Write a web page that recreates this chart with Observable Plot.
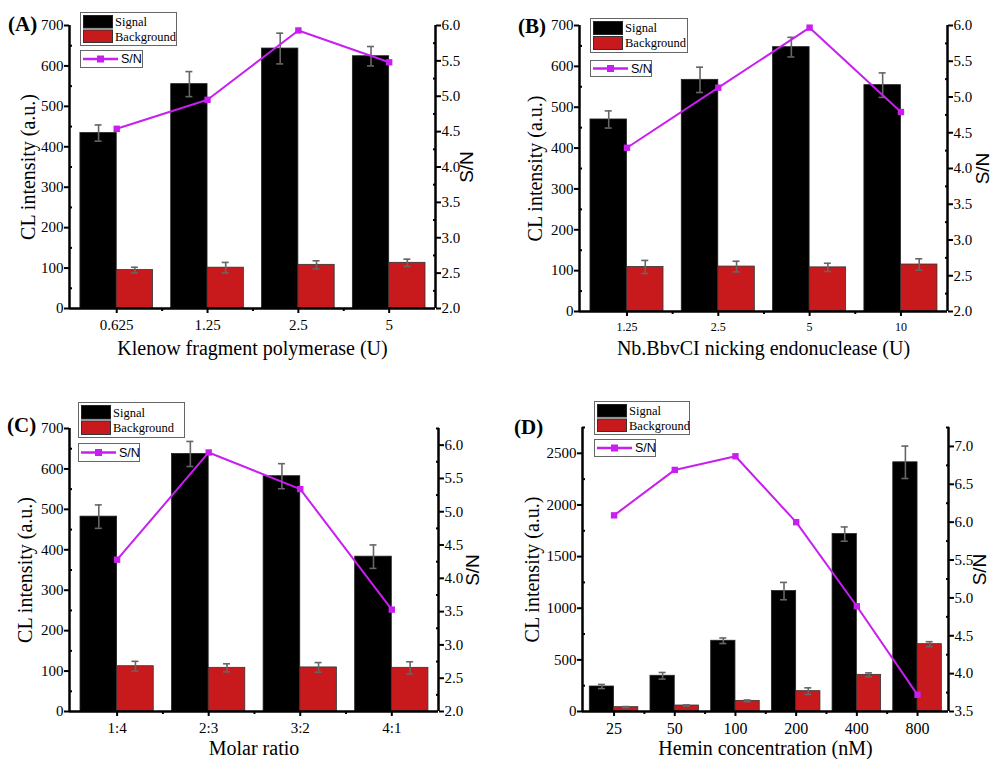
<!DOCTYPE html>
<html><head><meta charset="utf-8">
<script src="https://cdn.jsdelivr.net/npm/d3@7"></script>
<script src="https://cdn.jsdelivr.net/npm/@observablehq/plot@0.6"></script>
<style>
body{margin:0;background:#fff;}
#root{position:relative;width:991px;height:759px;overflow:hidden;background:#fff;}
.panel{position:absolute;}
.panel svg{overflow:visible;}
.tag{position:absolute;font:bold 21px "Liberation Serif";line-height:1;color:#000;}
.legend{position:absolute;}
</style></head><body><div id="root"></div>
<script>
// ---------- DATA ----------
const catsA = ["0.625", "1.25", "2.5", "5"];
const signalA = [434, 555, 643, 624];
const signalErrA = [20, 31, 38, 24];
const backA = [95, 101, 108, 113];
const backErrA = [7, 13, 10, 9];
const snA = [4.54, 4.95, 5.93, 5.48];

const catsB = ["1.25", "2.5", "5", "10"];
const signalB = [470, 567, 647, 554];
const signalErrB = [21, 31, 24, 30];
const backB = [109, 110, 108, 115];
const backErrB = [16, 13, 10, 14];
const snB = [4.29, 5.13, 5.97, 4.79];

const catsC = ["1:4", "2:3", "3:2", "4:1"];
const signalC = [482, 637, 582, 383];
const signalErrC = [29, 31, 31, 29];
const backC = [112, 108, 109, 108];
const backErrC = [12, 10, 12, 15];
const snC = [4.28, 5.89, 5.34, 3.53];

const catsD = ["25", "50", "100", "200", "400", "800"];
const signalD = [242, 346, 685, 1166, 1718, 2413];
const signalErrD = [20, 32, 27, 84, 69, 157];
const backD = [42, 58, 103, 197, 355, 652];
const backErrD = [6, 6, 8, 32, 19, 24];
const snD = [6.09, 6.69, 6.87, 6.0, 4.89, 3.72];

const seriesNames = ["Signal", "Background"];
const lineName = "S/N";
const yTitle = "CL intensity (a.u.)";

// ---------- STYLE / LAYOUT ----------
const MAG = "#c81ef0";
const RED = "#c81a1c";
const ERR = "#666";
const SERIF = "Liberation Serif, Times New Roman, serif";
const SANS = "Liberation Sans, Arial, sans-serif";

const panels = [
  {tag:"(A)", cats:catsA, signal:signalA, signalErr:signalErrA, back:backA, backErr:backErrA, sn:snA,
   xTitle:"Klenow fragment polymerase (U)", yDomain:[0,700], yStep:100, rDomain:[2,6],
   left:0, top:0, w:495, h:380, mL:69, mR:60, mT:25, mB:72, yLab:49, rLab:37, xLab:46, xFs:15,
   tagX:8, tagY:14, lg:{x:80, y:12, w1:96, h1:33, y2:50, w2:62, h2:17}},
  {tag:"(B)", cats:catsB, signal:signalB, signalErr:signalErrB, back:backB, backErr:backErrB, sn:snB,
   xTitle:"Nb.BbvCI nicking endonuclease (U)", yDomain:[0,700], yStep:100, rDomain:[2,6],
   left:495, top:0, w:496, h:380, mL:84, mR:44, mT:25, mB:69, yLab:52, rLab:41, xLab:43, xFs:12,
   tagX:518, tagY:16, lg:{x:590, y:18, w1:97, h1:34, y2:60, w2:61, h2:16}},
  {tag:"(C)", cats:catsC, signal:signalC, signalErr:signalErrC, back:backC, backErr:backErrC, sn:snC,
   xTitle:"Molar ratio", yDomain:[0,700], yStep:100, rDomain:[2,6.25],
   left:0, top:380, w:495, h:379, mL:69, mR:57, mT:48, mB:48, yLab:52, rLab:40, xLab:43, xFs:15,
   tagX:7, tagY:415, lg:{x:78, y:402, w1:106, h1:35, y2:443, w2:61, h2:18}},
  {tag:"(D)", cats:catsD, signal:signalD, signalErr:signalErrD, back:backD, backErr:backErrD, sn:snD,
   xTitle:"Hemin concentration (nM)", yDomain:[0,2750], yStep:500, rDomain:[3.5,7.25],
   left:495, top:380, w:496, h:379, mL:87, mR:43, mT:47, mB:48, yLab:58, rLab:37, xLab:43, xFs:16,
   tagX:514, tagY:417, lg:{x:594, y:401, w1:95, h1:33, y2:439, w2:61, h2:17}}
];

const root = document.getElementById("root");

function makePanel(p) {
  const n = p.cats.length;
  const rows = p.cats.map((c, i) => ({i, c, sig:p.signal[i], sigErr:p.signalErr[i], bg:p.back[i], bgErr:p.backErr[i], sn:p.sn[i]}));
  const xDom = [-0.52, n - 0.49];
  const W = 0.4;
  const pxPerUnit = (p.w - p.mL - p.mR) / (xDom[1] - xDom[0]);
  const cap = 3.5 / pxPerUnit;
  const toLeft = d3.scaleLinear().domain(p.rDomain).range(p.yDomain);
  const eps = 1e-9;
  const majL = d3.range(p.yDomain[0], p.yDomain[1] + eps, p.yStep);
  const minL = d3.range(p.yDomain[0] + p.yStep / 2, p.yDomain[1] + eps, p.yStep);
  const majR = d3.range(p.rDomain[0], p.rDomain[1] + eps, 0.5);
  const minR = d3.range(p.rDomain[0] + 0.25, p.rDomain[1] + eps, 0.5);
  const idx = d3.range(n);
  const bounds = d3.range(n - 1).map(i => i + 0.5);
  const errStyle = {stroke: ERR, strokeWidth: 1.6};

  const chart = Plot.plot({
    width: p.w, height: p.h,
    marginLeft: p.mL, marginRight: p.mR, marginTop: p.mT, marginBottom: p.mB,
    style: {fontFamily: SERIF, fontSize: "15px", color: "#000", background: "transparent", overflow: "visible"},
    x: {domain: xDom, axis: null},
    y: {domain: p.yDomain, axis: null},
    marks: [
      Plot.rect(rows, {x1: d => d.i - W, x2: d => d.i, y1: 0, y2: "sig", fill: "#000", stroke: "#222", strokeWidth: 0.8}),
      Plot.rect(rows, {x1: d => d.i, x2: d => d.i + W, y1: 0, y2: "bg", fill: RED, stroke: "#333", strokeWidth: 0.8}),
      Plot.ruleX(rows, {x: d => d.i - W / 2, y1: d => d.sig - d.sigErr, y2: d => d.sig + d.sigErr, ...errStyle}),
      Plot.ruleY(rows, {y: d => d.sig + d.sigErr, x1: d => d.i - W / 2 - cap, x2: d => d.i - W / 2 + cap, ...errStyle}),
      Plot.ruleY(rows, {y: d => d.sig - d.sigErr, x1: d => d.i - W / 2 - cap, x2: d => d.i - W / 2 + cap, ...errStyle}),
      Plot.ruleX(rows, {x: d => d.i + W / 2, y1: d => d.bg - d.bgErr, y2: d => d.bg + d.bgErr, ...errStyle}),
      Plot.ruleY(rows, {y: d => d.bg + d.bgErr, x1: d => d.i + W / 2 - cap, x2: d => d.i + W / 2 + cap, ...errStyle}),
      Plot.ruleY(rows, {y: d => d.bg - d.bgErr, x1: d => d.i + W / 2 - cap, x2: d => d.i + W / 2 + cap, ...errStyle}),
      Plot.line(rows, {x: "i", y: d => toLeft(d.sn), stroke: MAG, strokeWidth: 2}),
      Plot.dot(rows, {x: "i", y: d => toLeft(d.sn), symbol: "square", fill: MAG, r: 3.6}),
      // axis lines
      Plot.ruleX([xDom[0]], {stroke: "#000", strokeWidth: 2.5}),
      Plot.ruleX([xDom[1]], {stroke: "#000", strokeWidth: 2.5}),
      Plot.ruleY([p.yDomain[0]], {stroke: "#000", strokeWidth: 2.5}),
      // left axis
      Plot.axisY({anchor: "left", ticks: majL, tickFormat: v => String(v), tickSize: 5, tickPadding: 1, strokeWidth: 2, label: null, fontSize: 15}),
      Plot.axisY({anchor: "left", ticks: minL, tickSize: -3, strokeWidth: 2, tickFormat: () => "", label: null}),
      Plot.axisY({anchor: "left", ticks: [], label: yTitle, labelAnchor: "center", labelArrow: "none", labelOffset: p.yLab, fontSize: 20}),
      // right axis (S/N)
      Plot.axisY({anchor: "right", ticks: majR.map(v => toLeft(v)), tickFormat: v => toLeft.invert(v).toFixed(1), tickSize: 5, tickPadding: 1, strokeWidth: 2, label: null, fontSize: 15}),
      Plot.axisY({anchor: "right", ticks: minR.map(v => toLeft(v)), tickSize: -3, strokeWidth: 2, tickFormat: () => "", label: null}),
      Plot.axisY({anchor: "right", ticks: [], label: lineName, labelAnchor: "center", labelArrow: "none", labelOffset: p.rLab, fontSize: 19, fontFamily: SANS}),
      // x axis
      Plot.axisX({ticks: idx, tickFormat: i => p.cats[i], tickSize: 5, tickPadding: 6, strokeWidth: 2, label: null, fontSize: p.xFs}),
      Plot.axisX({ticks: bounds, tickSize: 3, strokeWidth: 2, tickFormat: () => "", label: null}),
      Plot.axisX({ticks: [], label: p.xTitle, labelAnchor: "center", labelArrow: "none", labelOffset: p.xLab, fontSize: 20})
    ]
  });
  const div = document.createElement("div");
  div.className = "panel";
  div.style.left = p.left + "px";
  div.style.top = p.top + "px";
  div.appendChild(chart);
  root.appendChild(div);

  // panel tag
  const t = document.createElement("div");
  t.className = "tag";
  t.style.left = p.tagX + "px";
  t.style.top = p.tagY + "px";
  t.textContent = p.tag;
  root.appendChild(t);

  // legend
  const L = p.lg;
  const ns = "http://www.w3.org/2000/svg";
  const svg = document.createElementNS(ns, "svg");
  const sw = Math.max(L.w1, L.w2) + 2, sh = (L.y2 - L.y) + L.h2 + 2;
  svg.setAttribute("width", sw); svg.setAttribute("height", sh);
  svg.style.position = "absolute"; svg.style.left = L.x + "px"; svg.style.top = L.y + "px";
  const o = L.y2 - L.y;
  const mid2 = o + L.h2 / 2 + 0.5;
  const rh = (L.h1 - 8) / 2;
  svg.innerHTML = `
    <rect x="0.5" y="0.5" width="${L.w1}" height="${L.h1}" fill="#fff" stroke="#666" stroke-width="1"/>
    <rect x="3.5" y="3.5" width="29" height="${rh}" fill="#000" stroke="#222"/>
    <rect x="3.5" y="${5.5 + rh}" width="29" height="${rh}" fill="${RED}" stroke="#333"/>
    <text x="35" y="${3.5 + rh / 2}" dy="0.35em" font-family="${SERIF}" font-size="12.5">${seriesNames[0]}</text>
    <text x="35" y="${5.5 + rh * 1.5}" dy="0.35em" font-family="${SERIF}" font-size="12.5">${seriesNames[1]}</text>
    <rect x="0.5" y="${o + 0.5}" width="${L.w2}" height="${L.h2}" fill="#fff" stroke="#666" stroke-width="1"/>
    <line x1="3" x2="38" y1="${mid2}" y2="${mid2}" stroke="${MAG}" stroke-width="2.5"/>
    <rect x="${20.5 - 3.5}" y="${mid2 - 3.5}" width="7" height="7" fill="${MAG}"/>
    <text x="41" y="${mid2}" dy="0.35em" font-family="${SANS}" font-size="12.5">${lineName}</text>`;
  root.appendChild(svg);
}

panels.forEach(makePanel);
</script>
</body></html>
